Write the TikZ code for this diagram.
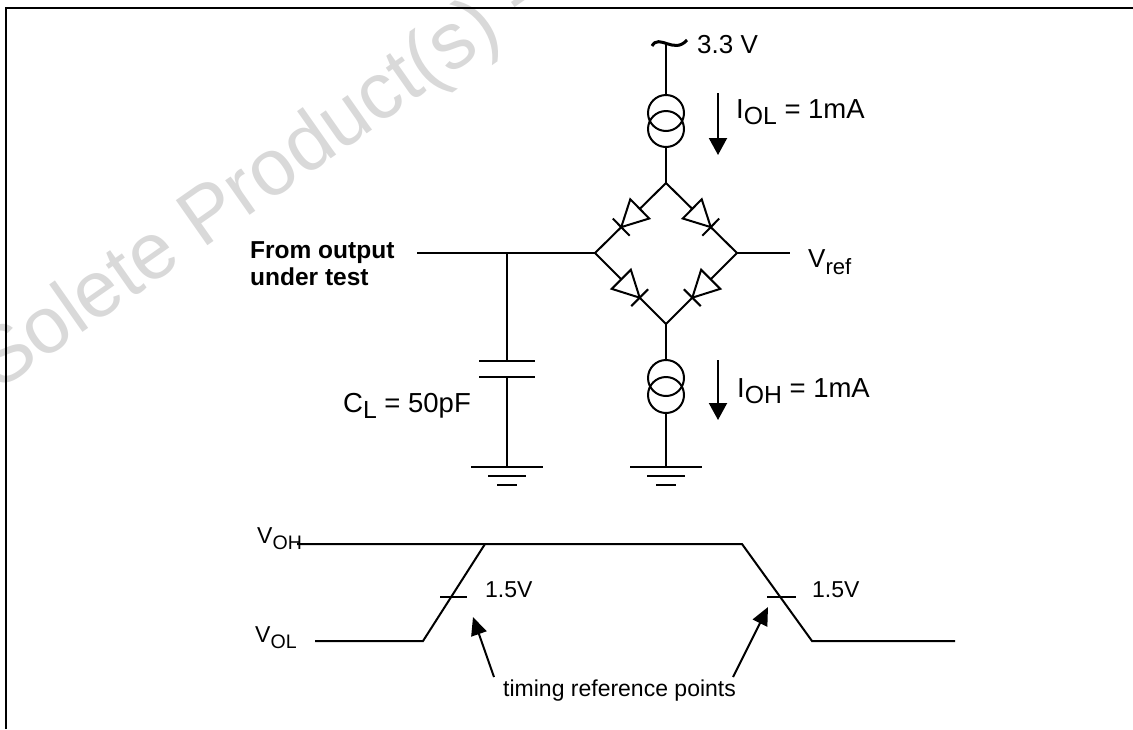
\documentclass[tikz,border=0pt]{standalone}
\usepackage{fontspec}
\setmainfont{Liberation Sans}
\usepackage{graphicx}
\usetikzlibrary{arrows.meta,calc}
\newcommand{\lsub}[1]{\raisebox{-0.28em}{\scalebox{0.85}{#1}}}
\newcommand{\bsub}[1]{\raisebox{-0.25em}{\scalebox{0.9}{#1}}}
\newcommand{\diodeAK}[2]{%
  \coordinate (dM) at ($(#1)!0.5!(#2)$);
  \coordinate (dB) at ($(dM)!13pt!(#1)$);
  \coordinate (dA) at ($(dM)!13pt!(#2)$);
  \draw[wire] (#1) -- (dB);
  \draw[wire] (dA) -- (#2);
  \draw[wire, line join=miter] ($(dB)!13.5pt!90:(#1)$) -- ($(dB)!13.5pt!-90:(#1)$) -- (dA) -- cycle;
  \draw[wire] ($(dA)!12pt!90:(#2)$) -- ($(dA)!12pt!-90:(#2)$);
}
\newcommand{\groundat}[1]{%
  \draw[wire] ($(#1)+(-36,0)$) -- ($(#1)+(36,0)$);
  \draw[wire] ($(#1)+(-19,9)$) -- ($(#1)+(19,9)$);
  \draw[wire] ($(#1)+(-10,18)$) -- ($(#1)+(10,18)$);
}
\tikzset{
  wire/.style={line width=2pt},
  lbl/.style={inner sep=0pt, anchor=base west, font=\fontsize{24}{28}\selectfont},
  biglbl/.style={inner sep=0pt, anchor=base west, font=\fontsize{27.5}{31}\selectfont},
  slbl/.style={inner sep=0pt, anchor=base west, font=\fontsize{23}{27}\selectfont},
  blbl/.style={inner sep=0pt, anchor=base west, font=\fontsize{24.5}{28}\selectfont\bfseries},
  srcring/.style={draw, circle, minimum size=36pt, inner sep=0pt, line width=2pt},
  curarrow/.style={wire, -{Triangle[length=17pt,width=18pt]}},
  refarrow/.style={wire, -{Triangle[length=18pt,width=16pt]}}
}
\begin{document}
\begin{tikzpicture}[x=1pt,y=-1pt]
\useasboundingbox (0,0) rectangle (1133,729);
% watermark
\begin{scope}
\clip (0,0) rectangle (1133,729);
\node[inner sep=0pt, anchor=base west, rotate=35, text=black!15, font=\fontsize{80}{84}\selectfont] (wm) at (-2,392) {Solete Product(s) - Obsolete Product(s)};
\end{scope}
% frame
\draw[line width=2.5pt] (6,729) -- (6,8) -- (1133,8);

% supply and top current source
\coordinate (vsup) at (666,43);
\draw[line width=3pt] (652,46) .. controls (659,33) and (674,55) .. (687,40);
\node[srcring] (csA1) at (666,113) {};
\node[srcring] (csA2) at (666,129) {};
\coordinate (T) at (666,183);
\coordinate (L) at (595,253);
\coordinate (R) at (737,253);
\coordinate (B) at (666,324);
\draw[wire] (vsup) -- (csA1.north);
\draw[wire] (csA2.south) -- (T);
\node[inner sep=0pt, anchor=base west, font=\fontsize{26}{30}\selectfont] (v33) at (697,53) {3.3 V};
\coordinate (ia1) at (718,93);
\coordinate (ia2) at (718,155);
\draw[curarrow] (ia1) -- (ia2);
\node[biglbl] (iol) at (736,118) {I\bsub{OL} = 1mA};

% diode bridge
\diodeAK{T}{L}
\diodeAK{T}{R}
\diodeAK{L}{B}
\diodeAK{R}{B}

% input wire, vref wire
\coordinate (inp) at (417,253);
\coordinate (J) at (507,253);
\coordinate (vrefend) at (790,253);
\draw[wire] (inp) -- (L);
\draw[wire] (R) -- (vrefend);
\node[inner sep=0pt, anchor=base west, font=\fontsize{26}{30}\selectfont] (vref) at (808,267) {V\lsub{ref}};
\node[blbl] (from1) at (250,258) {From output};
\node[blbl] (from2) at (250,285) {under test};

% capacitor
\coordinate (capT) at (507,361);
\coordinate (capB) at (507,377);
\coordinate (gnd1) at (507,467);
\draw[wire] (J) -- (capT);
\draw[wire] (479,361) -- (535,361);
\draw[wire] (479,377) -- (535,377);
\draw[wire] (capB) -- (gnd1);
\groundat{gnd1}
\node[biglbl] (cl) at (343,412) {C\bsub{L} = 50pF};

% bottom current source
\node[srcring] (csB1) at (666,378) {};
\node[srcring] (csB2) at (666,395) {};
\coordinate (gnd2) at (666,467);
\draw[wire] (B) -- (csB1.north);
\draw[wire] (csB2.south) -- (gnd2);
\groundat{gnd2}
\coordinate (ib1) at (718,360);
\coordinate (ib2) at (718,420);
\draw[curarrow] (ib1) -- (ib2);
\node[biglbl] (ioh) at (737,397) {I\bsub{OH} = 1mA};

% waveform
\coordinate (w1) at (297,544);
\coordinate (w2) at (742,544);
\coordinate (w3) at (812,641);
\coordinate (w4) at (955,641);
\coordinate (u1) at (315,641);
\coordinate (u2) at (423,641);
\coordinate (u3) at (485,544);
\draw[wire] (w1) -- (w2) -- (w3) -- (w4);
\draw[wire] (u1) -- (u2) -- (u3);
\draw[wire] (440,597) -- (467,597);
\draw[wire] (767,597) -- (796,597);
\node[slbl] (voh) at (257,543) {V\lsub{OH}};
\node[slbl] (vol) at (255,642) {V\lsub{OL}};
\node[slbl] (t1) at (485,597) {1.5V};
\node[slbl] (t2) at (812,597) {1.5V};
\node[slbl] (tref) at (503,696) {timing reference points};
\coordinate (ta1) at (494,677);
\coordinate (ta2) at (473,617);
\coordinate (tb1) at (733,677);
\coordinate (tb2) at (768,607);
\draw[refarrow] (ta1) -- (ta2);
\draw[refarrow] (tb1) -- (tb2);
\end{tikzpicture}
\end{document}
